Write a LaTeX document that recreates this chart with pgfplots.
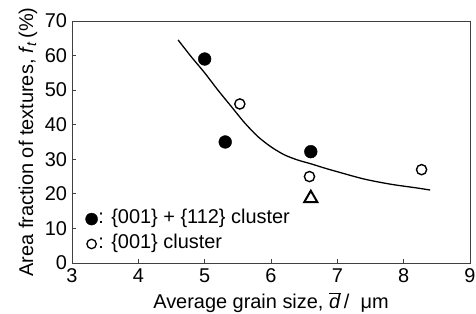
\documentclass[border=0pt]{standalone}
\usepackage{fontspec}
\setmainfont{Liberation Sans}
\usepackage{pgfplots}
\pgfplotsset{compat=1.18}
\begin{document}
\begin{tikzpicture}
\begin{axis}[
  name=ax,
  scale only axis,
  width=398bp, height=242bp,
  xmin=3, xmax=9, ymin=0, ymax=70,
  xtick={3,4,5,6,7,8,9}, ytick={0,10,20,30,40,50,60,70},
  tick align=inside, tick pos=left,
  major tick length=4bp,
  axis line style={draw=black!75, line width=0.9pt},
  tick style={draw=black!75, line width=0.8pt},
  /pgf/number format/assume math mode=true,
  ticklabel style={font=\fontsize{20}{20}\selectfont},
  xticklabel style={yshift=-2.5bp},
  yticklabel style={xshift=-1.5bp},
  legend style={draw=none, fill=none, at={(axis cs:3.205,9.1)}, anchor=west,
    inner sep=0pt, outer sep=0pt,
    font=\fontsize{20}{20}\selectfont, row sep=4.3bp,
    nodes={inner sep=0.8bp, text height=14bp, text depth=5bp},
    /tikz/every even column/.append style={column sep=0pt}},
  legend cell align=left,
  legend image code/.code={\draw[#1] plot coordinates {(0bp,0bp)};},
]
\addplot[smooth, black, line width=1.3pt, forget plot] coordinates {
(4.60,64.5) (4.80,59.6) (5.00,55.0) (5.20,50.0) (5.40,45.3) (5.60,40.6)
(5.80,36.6) (6.00,33.6) (6.20,31.3) (6.40,29.8) (6.60,28.7) (6.80,27.5)
(7.00,26.4) (7.40,24.3) (7.80,22.8) (8.20,21.7) (8.40,21.1)};
\addplot[only marks, mark=*, mark size=6.4bp, black, forget plot] coordinates {
(5.00,59.0) (5.31,35.0) (6.60,32.2)};
\addplot[only marks, mark=o, mark size=5.1bp, black, line width=1.4pt, fill=white, forget plot] coordinates {
(5.53,46.0) (6.58,25.0) (8.27,27.0)};
\addplot[only marks, mark=triangle, mark size=7.6bp, black, line width=2pt, forget plot] coordinates {
(6.60,18.7)};
\addlegendimage{only marks, mark=*, mark size=6bp, black}
\addlegendentry{: \{001\} + \{112\} cluster}
\addlegendimage{only marks, mark=o, mark size=4.7bp, black, line width=1.3pt}
\addlegendentry{: \{001\} cluster}
\end{axis}
\node[font=\fontsize{20}{20}\selectfont, anchor=base]
  at ([yshift=-46bp]ax.south) {Average grain size, $\overline{\mbox{\textit{d}}}$\,/ \ μm};
\node[font=\fontsize{20}{20}\selectfont, rotate=90, anchor=base]
  at ([xshift=-39bp]ax.west) {Area fraction of textures, \textit{f}\textsubscript{\textit{t}}\,(\%)};
\pgfresetboundingbox
\path[use as bounding box] ([shift={(-72bp,-51bp)}]ax.south west) rectangle ([shift={(6bp,21bp)}]ax.north east);
\end{tikzpicture}
\end{document}
